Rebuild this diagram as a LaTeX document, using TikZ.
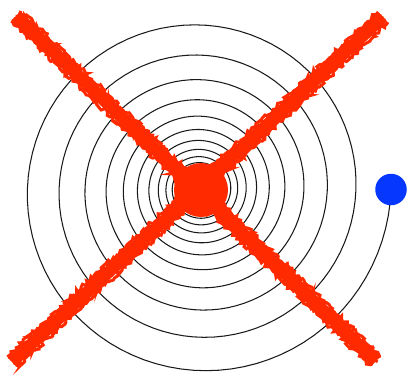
\documentclass[tikz,border=0pt]{standalone}
\usetikzlibrary{decorations.pathmorphing,calc}
\definecolor{xred}{RGB}{255,42,0}
\definecolor{dotblue}{RGB}{5,55,255}
\begin{document}
\begin{tikzpicture}[x=1pt,y=-1pt,
  spiral/.style={draw=black!90, line width=1.05pt},
  brush/.style={draw=xred, line width=12pt},
  bristle/.style={draw=xred, line width=3pt, decorate,
    decoration={random steps, segment length=2.2pt, amplitude=2pt}}]
\useasboundingbox (0,0) rectangle (411,376);
\pgfmathsetseed{7}
% spiral
\draw[spiral] plot[domain=0:3960, samples=990]
  ({200+191*exp(-0.2029*\x/360)*cos(\x)},{189+191*exp(-0.2029*\x/360)*sin(\x)});
% blue dot at the end of the spiral
\node[circle, fill=dotblue, minimum size=31.5pt, inner sep=0pt] (blue) at (391,189.5) {};
% red cross
\coordinate (a1) at (16,16);
\coordinate (b1) at (376,361);
\coordinate (a2) at (383,17);
\coordinate (b2) at (12,362);
\draw[brush] (a1) -- (b1);
\draw[brush] (a2) -- (b2);
\foreach \o in {-7,-4,-1.5,1.5,4,7} {
  \draw[bristle] ($(a1)+({0.691*\o},{-0.723*\o})$) -- ($(b1)+({0.691*\o},{-0.723*\o})$);
  \draw[bristle] ($(a2)+({0.681*\o},{0.732*\o})$) -- ($(b2)+({0.681*\o},{0.732*\o})$);
}
% red centre dot
\node[circle, fill=xred, minimum size=54pt, inner sep=0pt] (core) at (201,190) {};
\end{tikzpicture}
\end{document}
